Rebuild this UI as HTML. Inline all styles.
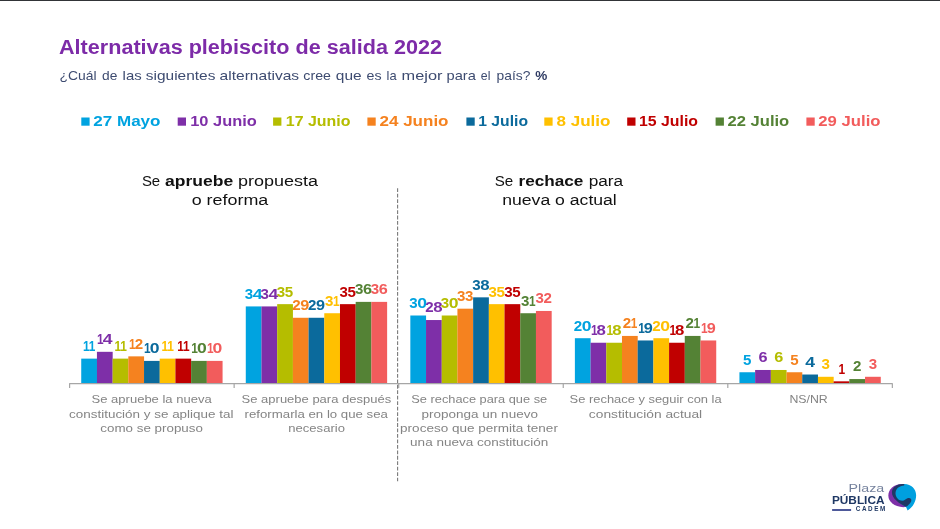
<!DOCTYPE html>
<html lang="es"><head><meta charset="utf-8"><title>Alternativas plebiscito de salida 2022</title>
<style>html,body{margin:0;padding:0;background:#fff;}body{width:940px;height:529px;overflow:hidden;position:relative;}svg{display:block;position:absolute;left:0;top:0;}text{font-family:"Liberation Sans", sans-serif;}</style>
</head><body>
<svg width="940" height="529" viewBox="0 0 940 529">
<rect x="0" y="0" width="940" height="529" fill="#ffffff"/>
<rect x="0" y="0" width="940" height="1" fill="#313437"/>
<g class="heading">
<text x="59.00" y="53.75" font-size="19.50" fill="#7D2BA8" font-weight="bold" textLength="383.00" lengthAdjust="spacingAndGlyphs">Alternativas plebiscito de salida 2022</text>
<text y="79.5" font-size="13" fill="#3D4B70"><tspan x="59.60" textLength="37.05" lengthAdjust="spacingAndGlyphs">¿Cuál</tspan> <tspan x="102.10" textLength="15.30" lengthAdjust="spacingAndGlyphs">de</tspan> <tspan x="122.60" textLength="19.05" lengthAdjust="spacingAndGlyphs">las</tspan> <tspan x="145.85" textLength="69.55" lengthAdjust="spacingAndGlyphs">siguientes</tspan> <tspan x="219.60" textLength="79.55" lengthAdjust="spacingAndGlyphs">alternativas</tspan> <tspan x="303.35" textLength="27.55" lengthAdjust="spacingAndGlyphs">cree</tspan> <tspan x="335.85" textLength="25.80" lengthAdjust="spacingAndGlyphs">que</tspan> <tspan x="366.60" textLength="15.05" lengthAdjust="spacingAndGlyphs">es</tspan> <tspan x="386.60" textLength="10.05" lengthAdjust="spacingAndGlyphs">la</tspan> <tspan x="401.60" textLength="40.80" lengthAdjust="spacingAndGlyphs">mejor</tspan> <tspan x="446.60" textLength="29.30" lengthAdjust="spacingAndGlyphs">para</tspan> <tspan x="480.85" textLength="9.55" lengthAdjust="spacingAndGlyphs">el</tspan> <tspan x="496.60" textLength="33.80" lengthAdjust="spacingAndGlyphs">país?</tspan> <tspan x="535.35" textLength="12.05" lengthAdjust="spacingAndGlyphs" font-weight="bold" fill="#2F3B63">%</tspan></text>
</g>
<g class="legend">
<rect x="81.30" y="117.5" width="8.3" height="8.2" fill="#00A3E0"/>
<text x="93.25" y="126.40" font-size="15.00" fill="#00A3E0" font-weight="bold" textLength="67.25" lengthAdjust="spacingAndGlyphs">27 Mayo</text>
<rect x="177.70" y="117.5" width="8.3" height="8.2" fill="#7E2FA8"/>
<text x="190.25" y="126.40" font-size="15.00" fill="#7E2FA8" font-weight="bold" textLength="66.50" lengthAdjust="spacingAndGlyphs">10 Junio</text>
<rect x="273.10" y="117.5" width="8.3" height="8.2" fill="#B5BD00"/>
<text x="285.75" y="126.40" font-size="15.00" fill="#B5BD00" font-weight="bold" textLength="64.75" lengthAdjust="spacingAndGlyphs">17 Junio</text>
<rect x="367.40" y="117.5" width="8.3" height="8.2" fill="#F5821F"/>
<text x="379.50" y="126.40" font-size="15.00" fill="#F5821F" font-weight="bold" textLength="69.00" lengthAdjust="spacingAndGlyphs">24 Junio</text>
<rect x="466.40" y="117.5" width="8.3" height="8.2" fill="#0B6A9C"/>
<text x="478.25" y="126.40" font-size="15.00" fill="#0B6A9C" font-weight="bold" textLength="49.75" lengthAdjust="spacingAndGlyphs">1 Julio</text>
<rect x="544.30" y="117.5" width="8.3" height="8.2" fill="#FFC000"/>
<text x="556.50" y="126.40" font-size="15.00" fill="#FFC000" font-weight="bold" textLength="54.00" lengthAdjust="spacingAndGlyphs">8 Julio</text>
<rect x="627.20" y="117.5" width="8.3" height="8.2" fill="#C00000"/>
<text x="639.00" y="126.40" font-size="15.00" fill="#C00000" font-weight="bold" textLength="59.00" lengthAdjust="spacingAndGlyphs">15 Julio</text>
<rect x="715.60" y="117.5" width="8.3" height="8.2" fill="#548235"/>
<text x="727.50" y="126.40" font-size="15.00" fill="#548235" font-weight="bold" textLength="61.75" lengthAdjust="spacingAndGlyphs">22 Julio</text>
<rect x="806.40" y="117.5" width="8.3" height="8.2" fill="#F25C5C"/>
<text x="818.25" y="126.40" font-size="15.00" fill="#F25C5C" font-weight="bold" textLength="62.25" lengthAdjust="spacingAndGlyphs">29 Julio</text>
</g>
<g class="group-headers">
<text x="141.90" y="185.90" font-size="15.45" fill="#111111" textLength="18.30" lengthAdjust="spacingAndGlyphs">Se</text>
<text x="165.10" y="185.90" font-size="15.45" fill="#111111" font-weight="bold" textLength="68.10" lengthAdjust="spacingAndGlyphs">apruebe</text>
<text x="238.10" y="185.90" font-size="15.45" fill="#111111" textLength="80.00" lengthAdjust="spacingAndGlyphs">propuesta</text>
<text x="191.70" y="204.80" font-size="15.45" fill="#111111" textLength="76.60" lengthAdjust="spacingAndGlyphs">o reforma</text>
<text x="494.70" y="185.90" font-size="15.45" fill="#111111" textLength="18.50" lengthAdjust="spacingAndGlyphs">Se</text>
<text x="518.50" y="185.90" font-size="15.45" fill="#111111" font-weight="bold" textLength="64.90" lengthAdjust="spacingAndGlyphs">rechace</text>
<text x="588.70" y="185.90" font-size="15.45" fill="#111111" textLength="34.50" lengthAdjust="spacingAndGlyphs">para</text>
<text x="502.20" y="204.80" font-size="15.45" fill="#111111" textLength="114.60" lengthAdjust="spacingAndGlyphs">nueva o actual</text>
</g>
<line x1="397.6" y1="188.3" x2="397.6" y2="481.2" stroke="#7a7a7a" stroke-width="1.1" stroke-dasharray="3.8 1.66"/>
<g class="bars">
<rect x="81.23" y="358.63" width="15.75" height="24.97" fill="#00A3E0"/>
<rect x="96.93" y="351.82" width="15.75" height="31.78" fill="#7E2FA8"/>
<rect x="112.62" y="358.63" width="15.75" height="24.97" fill="#B5BD00"/>
<rect x="128.32" y="356.36" width="15.75" height="27.24" fill="#F5821F"/>
<rect x="144.03" y="360.90" width="15.75" height="22.70" fill="#0B6A9C"/>
<rect x="159.73" y="358.63" width="15.75" height="24.97" fill="#FFC000"/>
<rect x="175.43" y="358.63" width="15.75" height="24.97" fill="#C00000"/>
<rect x="191.12" y="360.90" width="15.75" height="22.70" fill="#548235"/>
<rect x="206.82" y="360.90" width="15.75" height="22.70" fill="#F25C5C"/>
<rect x="245.78" y="306.42" width="15.75" height="77.18" fill="#00A3E0"/>
<rect x="261.48" y="306.42" width="15.75" height="77.18" fill="#7E2FA8"/>
<rect x="277.18" y="304.15" width="15.75" height="79.45" fill="#B5BD00"/>
<rect x="292.88" y="317.77" width="15.75" height="65.83" fill="#F5821F"/>
<rect x="308.58" y="317.77" width="15.75" height="65.83" fill="#0B6A9C"/>
<rect x="324.28" y="313.23" width="15.75" height="70.37" fill="#FFC000"/>
<rect x="339.98" y="304.15" width="15.75" height="79.45" fill="#C00000"/>
<rect x="355.68" y="301.88" width="15.75" height="81.72" fill="#548235"/>
<rect x="371.38" y="301.88" width="15.75" height="81.72" fill="#F25C5C"/>
<rect x="410.33" y="315.50" width="15.75" height="68.10" fill="#00A3E0"/>
<rect x="426.03" y="320.04" width="15.75" height="63.56" fill="#7E2FA8"/>
<rect x="441.73" y="315.50" width="15.75" height="68.10" fill="#B5BD00"/>
<rect x="457.43" y="308.69" width="15.75" height="74.91" fill="#F5821F"/>
<rect x="473.13" y="297.34" width="15.75" height="86.26" fill="#0B6A9C"/>
<rect x="488.83" y="304.15" width="15.75" height="79.45" fill="#FFC000"/>
<rect x="504.53" y="304.15" width="15.75" height="79.45" fill="#C00000"/>
<rect x="520.23" y="313.23" width="15.75" height="70.37" fill="#548235"/>
<rect x="535.93" y="310.96" width="15.75" height="72.64" fill="#F25C5C"/>
<rect x="574.88" y="338.20" width="15.75" height="45.40" fill="#00A3E0"/>
<rect x="590.58" y="342.74" width="15.75" height="40.86" fill="#7E2FA8"/>
<rect x="606.27" y="342.74" width="15.75" height="40.86" fill="#B5BD00"/>
<rect x="621.98" y="335.93" width="15.75" height="47.67" fill="#F5821F"/>
<rect x="637.67" y="340.47" width="15.75" height="43.13" fill="#0B6A9C"/>
<rect x="653.38" y="338.20" width="15.75" height="45.40" fill="#FFC000"/>
<rect x="669.08" y="342.74" width="15.75" height="40.86" fill="#C00000"/>
<rect x="684.77" y="335.93" width="15.75" height="47.67" fill="#548235"/>
<rect x="700.48" y="340.47" width="15.75" height="43.13" fill="#F25C5C"/>
<rect x="739.43" y="372.25" width="15.75" height="11.35" fill="#00A3E0"/>
<rect x="755.13" y="369.98" width="15.75" height="13.62" fill="#7E2FA8"/>
<rect x="770.83" y="369.98" width="15.75" height="13.62" fill="#B5BD00"/>
<rect x="786.53" y="372.25" width="15.75" height="11.35" fill="#F5821F"/>
<rect x="802.23" y="374.52" width="15.75" height="9.08" fill="#0B6A9C"/>
<rect x="817.93" y="376.79" width="15.75" height="6.81" fill="#FFC000"/>
<rect x="833.62" y="381.33" width="15.75" height="2.27" fill="#C00000"/>
<rect x="849.33" y="379.06" width="15.75" height="4.54" fill="#548235"/>
<rect x="865.03" y="376.79" width="15.75" height="6.81" fill="#F25C5C"/>
</g>
<g class="axis">
<path d="M69.60 388.10V383.65H892.35V388.10" stroke="#a6a6a6" stroke-width="1.2" fill="none" stroke-linejoin="round"/>
<path d="M234.15 383.70V388.10" stroke="#a6a6a6" stroke-width="1.2" fill="none"/>
<path d="M398.70 383.70V388.10" stroke="#a6a6a6" stroke-width="1.2" fill="none"/>
<path d="M563.25 383.70V388.10" stroke="#a6a6a6" stroke-width="1.2" fill="none"/>
<path d="M727.80 383.70V388.10" stroke="#a6a6a6" stroke-width="1.2" fill="none"/>
</g>
<g class="data-labels">
<text y="351.03" font-size="14.20" font-weight="bold" fill="#00A3E0"><tspan x="83.12" textLength="6.60" lengthAdjust="spacingAndGlyphs">1</tspan><tspan x="88.83" textLength="6.60" lengthAdjust="spacingAndGlyphs">1</tspan></text>
<text y="344.22" font-size="14.20" font-weight="bold" fill="#7E2FA8"><tspan x="97.03" textLength="6.60" lengthAdjust="spacingAndGlyphs">1</tspan><tspan x="102.74" textLength="9.77" lengthAdjust="spacingAndGlyphs">4</tspan></text>
<text y="351.03" font-size="14.20" font-weight="bold" fill="#B5BD00"><tspan x="114.52" textLength="6.60" lengthAdjust="spacingAndGlyphs">1</tspan><tspan x="120.22" textLength="6.60" lengthAdjust="spacingAndGlyphs">1</tspan></text>
<text y="348.76" font-size="14.20" font-weight="bold" fill="#F5821F"><tspan x="129.07" textLength="6.60" lengthAdjust="spacingAndGlyphs">1</tspan><tspan x="134.82" textLength="8.40" lengthAdjust="spacingAndGlyphs">2</tspan></text>
<text y="353.30" font-size="14.20" font-weight="bold" fill="#0B6A9C"><tspan x="144.12" textLength="6.60" lengthAdjust="spacingAndGlyphs">1</tspan><tspan x="149.84" textLength="9.77" lengthAdjust="spacingAndGlyphs">0</tspan></text>
<text y="351.03" font-size="14.20" font-weight="bold" fill="#FFC000"><tspan x="161.62" textLength="6.60" lengthAdjust="spacingAndGlyphs">1</tspan><tspan x="167.32" textLength="6.60" lengthAdjust="spacingAndGlyphs">1</tspan></text>
<text y="351.03" font-size="14.20" font-weight="bold" fill="#C00000"><tspan x="177.32" textLength="6.60" lengthAdjust="spacingAndGlyphs">1</tspan><tspan x="183.02" textLength="6.60" lengthAdjust="spacingAndGlyphs">1</tspan></text>
<text y="353.30" font-size="14.20" font-weight="bold" fill="#548235"><tspan x="191.22" textLength="6.60" lengthAdjust="spacingAndGlyphs">1</tspan><tspan x="196.94" textLength="9.77" lengthAdjust="spacingAndGlyphs">0</tspan></text>
<text y="353.30" font-size="14.20" font-weight="bold" fill="#F25C5C"><tspan x="206.92" textLength="6.60" lengthAdjust="spacingAndGlyphs">1</tspan><tspan x="212.64" textLength="9.77" lengthAdjust="spacingAndGlyphs">0</tspan></text>
<text y="298.82" font-size="14.20" font-weight="bold" fill="#00A3E0"><tspan x="244.78" textLength="8.40" lengthAdjust="spacingAndGlyphs">3</tspan><tspan x="252.74" textLength="9.77" lengthAdjust="spacingAndGlyphs">4</tspan></text>
<text y="298.82" font-size="14.20" font-weight="bold" fill="#7E2FA8"><tspan x="260.48" textLength="8.40" lengthAdjust="spacingAndGlyphs">3</tspan><tspan x="268.44" textLength="9.77" lengthAdjust="spacingAndGlyphs">4</tspan></text>
<text y="296.55" font-size="14.20" font-weight="bold" fill="#B5BD00"><tspan x="276.83" textLength="8.40" lengthAdjust="spacingAndGlyphs">3</tspan><tspan x="284.83" textLength="8.40" lengthAdjust="spacingAndGlyphs">5</tspan></text>
<text y="310.17" font-size="14.20" font-weight="bold" fill="#F5821F"><tspan x="292.23" textLength="8.40" lengthAdjust="spacingAndGlyphs">2</tspan><tspan x="300.21" textLength="9.03" lengthAdjust="spacingAndGlyphs">9</tspan></text>
<text y="310.17" font-size="14.20" font-weight="bold" fill="#0B6A9C"><tspan x="307.93" textLength="8.40" lengthAdjust="spacingAndGlyphs">2</tspan><tspan x="315.91" textLength="9.03" lengthAdjust="spacingAndGlyphs">9</tspan></text>
<text y="305.63" font-size="14.20" font-weight="bold" fill="#FFC000"><tspan x="325.08" textLength="8.40" lengthAdjust="spacingAndGlyphs">3</tspan><tspan x="333.03" textLength="6.60" lengthAdjust="spacingAndGlyphs">1</tspan></text>
<text y="296.55" font-size="14.20" font-weight="bold" fill="#C00000"><tspan x="339.63" textLength="8.40" lengthAdjust="spacingAndGlyphs">3</tspan><tspan x="347.63" textLength="8.40" lengthAdjust="spacingAndGlyphs">5</tspan></text>
<text y="294.28" font-size="14.20" font-weight="bold" fill="#548235"><tspan x="355.03" textLength="8.40" lengthAdjust="spacingAndGlyphs">3</tspan><tspan x="363.01" textLength="9.03" lengthAdjust="spacingAndGlyphs">6</tspan></text>
<text y="294.28" font-size="14.20" font-weight="bold" fill="#F25C5C"><tspan x="370.73" textLength="8.40" lengthAdjust="spacingAndGlyphs">3</tspan><tspan x="378.71" textLength="9.03" lengthAdjust="spacingAndGlyphs">6</tspan></text>
<text y="307.90" font-size="14.20" font-weight="bold" fill="#00A3E0"><tspan x="409.33" textLength="8.40" lengthAdjust="spacingAndGlyphs">3</tspan><tspan x="417.29" textLength="9.77" lengthAdjust="spacingAndGlyphs">0</tspan></text>
<text y="312.44" font-size="14.20" font-weight="bold" fill="#7E2FA8"><tspan x="425.23" textLength="8.40" lengthAdjust="spacingAndGlyphs">2</tspan><tspan x="433.20" textLength="9.35" lengthAdjust="spacingAndGlyphs">8</tspan></text>
<text y="307.90" font-size="14.20" font-weight="bold" fill="#B5BD00"><tspan x="440.73" textLength="8.40" lengthAdjust="spacingAndGlyphs">3</tspan><tspan x="448.69" textLength="9.77" lengthAdjust="spacingAndGlyphs">0</tspan></text>
<text y="301.09" font-size="14.20" font-weight="bold" fill="#F5821F"><tspan x="457.08" textLength="8.40" lengthAdjust="spacingAndGlyphs">3</tspan><tspan x="465.08" textLength="8.40" lengthAdjust="spacingAndGlyphs">3</tspan></text>
<text y="289.74" font-size="14.20" font-weight="bold" fill="#0B6A9C"><tspan x="472.33" textLength="8.40" lengthAdjust="spacingAndGlyphs">3</tspan><tspan x="480.30" textLength="9.35" lengthAdjust="spacingAndGlyphs">8</tspan></text>
<text y="296.55" font-size="14.20" font-weight="bold" fill="#FFC000"><tspan x="488.48" textLength="8.40" lengthAdjust="spacingAndGlyphs">3</tspan><tspan x="496.48" textLength="8.40" lengthAdjust="spacingAndGlyphs">5</tspan></text>
<text y="296.55" font-size="14.20" font-weight="bold" fill="#C00000"><tspan x="504.18" textLength="8.40" lengthAdjust="spacingAndGlyphs">3</tspan><tspan x="512.17" textLength="8.40" lengthAdjust="spacingAndGlyphs">5</tspan></text>
<text y="305.63" font-size="14.20" font-weight="bold" fill="#548235"><tspan x="521.02" textLength="8.40" lengthAdjust="spacingAndGlyphs">3</tspan><tspan x="528.98" textLength="6.60" lengthAdjust="spacingAndGlyphs">1</tspan></text>
<text y="303.36" font-size="14.20" font-weight="bold" fill="#F25C5C"><tspan x="535.58" textLength="8.40" lengthAdjust="spacingAndGlyphs">3</tspan><tspan x="543.58" textLength="8.40" lengthAdjust="spacingAndGlyphs">2</tspan></text>
<text y="330.60" font-size="14.20" font-weight="bold" fill="#00A3E0"><tspan x="573.88" textLength="8.40" lengthAdjust="spacingAndGlyphs">2</tspan><tspan x="581.84" textLength="9.77" lengthAdjust="spacingAndGlyphs">0</tspan></text>
<text y="335.14" font-size="14.20" font-weight="bold" fill="#7E2FA8"><tspan x="590.88" textLength="6.60" lengthAdjust="spacingAndGlyphs">1</tspan><tspan x="596.60" textLength="9.35" lengthAdjust="spacingAndGlyphs">8</tspan></text>
<text y="335.14" font-size="14.20" font-weight="bold" fill="#B5BD00"><tspan x="606.58" textLength="6.60" lengthAdjust="spacingAndGlyphs">1</tspan><tspan x="612.30" textLength="9.35" lengthAdjust="spacingAndGlyphs">8</tspan></text>
<text y="328.33" font-size="14.20" font-weight="bold" fill="#F5821F"><tspan x="622.77" textLength="8.40" lengthAdjust="spacingAndGlyphs">2</tspan><tspan x="630.73" textLength="6.60" lengthAdjust="spacingAndGlyphs">1</tspan></text>
<text y="332.87" font-size="14.20" font-weight="bold" fill="#0B6A9C"><tspan x="638.13" textLength="6.60" lengthAdjust="spacingAndGlyphs">1</tspan><tspan x="643.86" textLength="9.03" lengthAdjust="spacingAndGlyphs">9</tspan></text>
<text y="330.60" font-size="14.20" font-weight="bold" fill="#FFC000"><tspan x="652.38" textLength="8.40" lengthAdjust="spacingAndGlyphs">2</tspan><tspan x="660.34" textLength="9.77" lengthAdjust="spacingAndGlyphs">0</tspan></text>
<text y="335.14" font-size="14.20" font-weight="bold" fill="#C00000"><tspan x="669.38" textLength="6.60" lengthAdjust="spacingAndGlyphs">1</tspan><tspan x="675.10" textLength="9.35" lengthAdjust="spacingAndGlyphs">8</tspan></text>
<text y="328.33" font-size="14.20" font-weight="bold" fill="#548235"><tspan x="685.57" textLength="8.40" lengthAdjust="spacingAndGlyphs">2</tspan><tspan x="693.53" textLength="6.60" lengthAdjust="spacingAndGlyphs">1</tspan></text>
<text y="332.87" font-size="14.20" font-weight="bold" fill="#F25C5C"><tspan x="700.93" textLength="6.60" lengthAdjust="spacingAndGlyphs">1</tspan><tspan x="706.66" textLength="9.03" lengthAdjust="spacingAndGlyphs">9</tspan></text>
<text y="364.65" font-size="14.20" font-weight="bold" fill="#00A3E0"><tspan x="743.08" textLength="8.40" lengthAdjust="spacingAndGlyphs">5</tspan></text>
<text y="362.38" font-size="14.20" font-weight="bold" fill="#7E2FA8"><tspan x="758.46" textLength="9.03" lengthAdjust="spacingAndGlyphs">6</tspan></text>
<text y="362.38" font-size="14.20" font-weight="bold" fill="#B5BD00"><tspan x="774.16" textLength="9.03" lengthAdjust="spacingAndGlyphs">6</tspan></text>
<text y="364.65" font-size="14.20" font-weight="bold" fill="#F5821F"><tspan x="790.18" textLength="8.40" lengthAdjust="spacingAndGlyphs">5</tspan></text>
<text y="366.92" font-size="14.20" font-weight="bold" fill="#0B6A9C"><tspan x="805.19" textLength="9.77" lengthAdjust="spacingAndGlyphs">4</tspan></text>
<text y="369.19" font-size="14.20" font-weight="bold" fill="#FFC000"><tspan x="821.58" textLength="8.40" lengthAdjust="spacingAndGlyphs">3</tspan></text>
<text y="373.73" font-size="14.20" font-weight="bold" fill="#C00000"><tspan x="838.38" textLength="6.60" lengthAdjust="spacingAndGlyphs">1</tspan></text>
<text y="371.46" font-size="14.20" font-weight="bold" fill="#548235"><tspan x="852.98" textLength="8.40" lengthAdjust="spacingAndGlyphs">2</tspan></text>
<text y="369.19" font-size="14.20" font-weight="bold" fill="#F25C5C"><tspan x="868.68" textLength="8.40" lengthAdjust="spacingAndGlyphs">3</tspan></text>
</g>
<g class="category-labels">
<text x="91.60" y="403.30" font-size="11.45" fill="#848484" textLength="120.05" lengthAdjust="spacingAndGlyphs">Se apruebe la nueva</text>
<text x="69.10" y="417.50" font-size="11.45" fill="#848484" textLength="164.30" lengthAdjust="spacingAndGlyphs">constitución y se aplique tal</text>
<text x="100.35" y="431.70" font-size="11.45" fill="#848484" textLength="102.55" lengthAdjust="spacingAndGlyphs">como se propuso</text>
<text x="241.60" y="403.30" font-size="11.45" fill="#848484" textLength="149.55" lengthAdjust="spacingAndGlyphs">Se apruebe para después</text>
<text x="244.60" y="417.50" font-size="11.45" fill="#848484" textLength="143.30" lengthAdjust="spacingAndGlyphs">reformarla en lo que sea</text>
<text x="288.35" y="431.70" font-size="11.45" fill="#848484" textLength="56.55" lengthAdjust="spacingAndGlyphs">necesario</text>
<text x="411.35" y="403.30" font-size="11.45" fill="#848484" textLength="135.80" lengthAdjust="spacingAndGlyphs">Se rechace para que se</text>
<text x="421.60" y="417.50" font-size="11.45" fill="#848484" textLength="116.30" lengthAdjust="spacingAndGlyphs">proponga un nuevo</text>
<text x="400.10" y="431.70" font-size="11.45" fill="#848484" textLength="157.80" lengthAdjust="spacingAndGlyphs">proceso que permita tener</text>
<text x="410.10" y="445.90" font-size="11.45" fill="#848484" textLength="138.30" lengthAdjust="spacingAndGlyphs">una nueva constitución</text>
<text x="569.60" y="403.30" font-size="11.45" fill="#848484" textLength="152.05" lengthAdjust="spacingAndGlyphs">Se rechace y seguir con la</text>
<text x="588.85" y="417.50" font-size="11.45" fill="#848484" textLength="113.30" lengthAdjust="spacingAndGlyphs">constitución actual</text>
<text x="789.40" y="403.30" font-size="11.45" fill="#848484" textLength="38.40" lengthAdjust="spacingAndGlyphs">NS/NR</text>
</g>
<g class="logo">
<text x="848.60" y="492.00" font-size="11.80" fill="#74819C" textLength="35.60" lengthAdjust="spacingAndGlyphs">Plaza</text>
<text x="831.90" y="503.80" font-size="11.40" fill="#1F3864" font-weight="bold" textLength="52.60" lengthAdjust="spacingAndGlyphs">PÚBLICA</text>
<rect x="832.1" y="509.1" width="19.0" height="1.8" fill="#3B478F"/>
<text x="855.7" y="510.8" font-size="6.3" font-weight="bold" fill="#1F3864" textLength="29.6" lengthAdjust="spacing">CADEM</text>
<g transform="translate(880 476) scale(0.0756)">
<path d="M300 105C190 100 108 175 110 262C112 345 200 425 345 410L400 250Z" fill="#7E2FA8"/>
<path d="M318 106C410 103 478 170 478 255C478 340 430 420 365 455L343 406C300 380 200 330 200 240C200 160 250 115 318 106Z" fill="#00A0DF"/>
<path d="M320 107C240 100 162 140 158 215C154 295 255 365 345 408C395 375 428 330 410 304C394 282 355 293 335 312C290 352 210 310 205 235C202 170 255 128 320 126Z" fill="#1F3864"/>
</g>
</g>
</svg>
</body></html>
